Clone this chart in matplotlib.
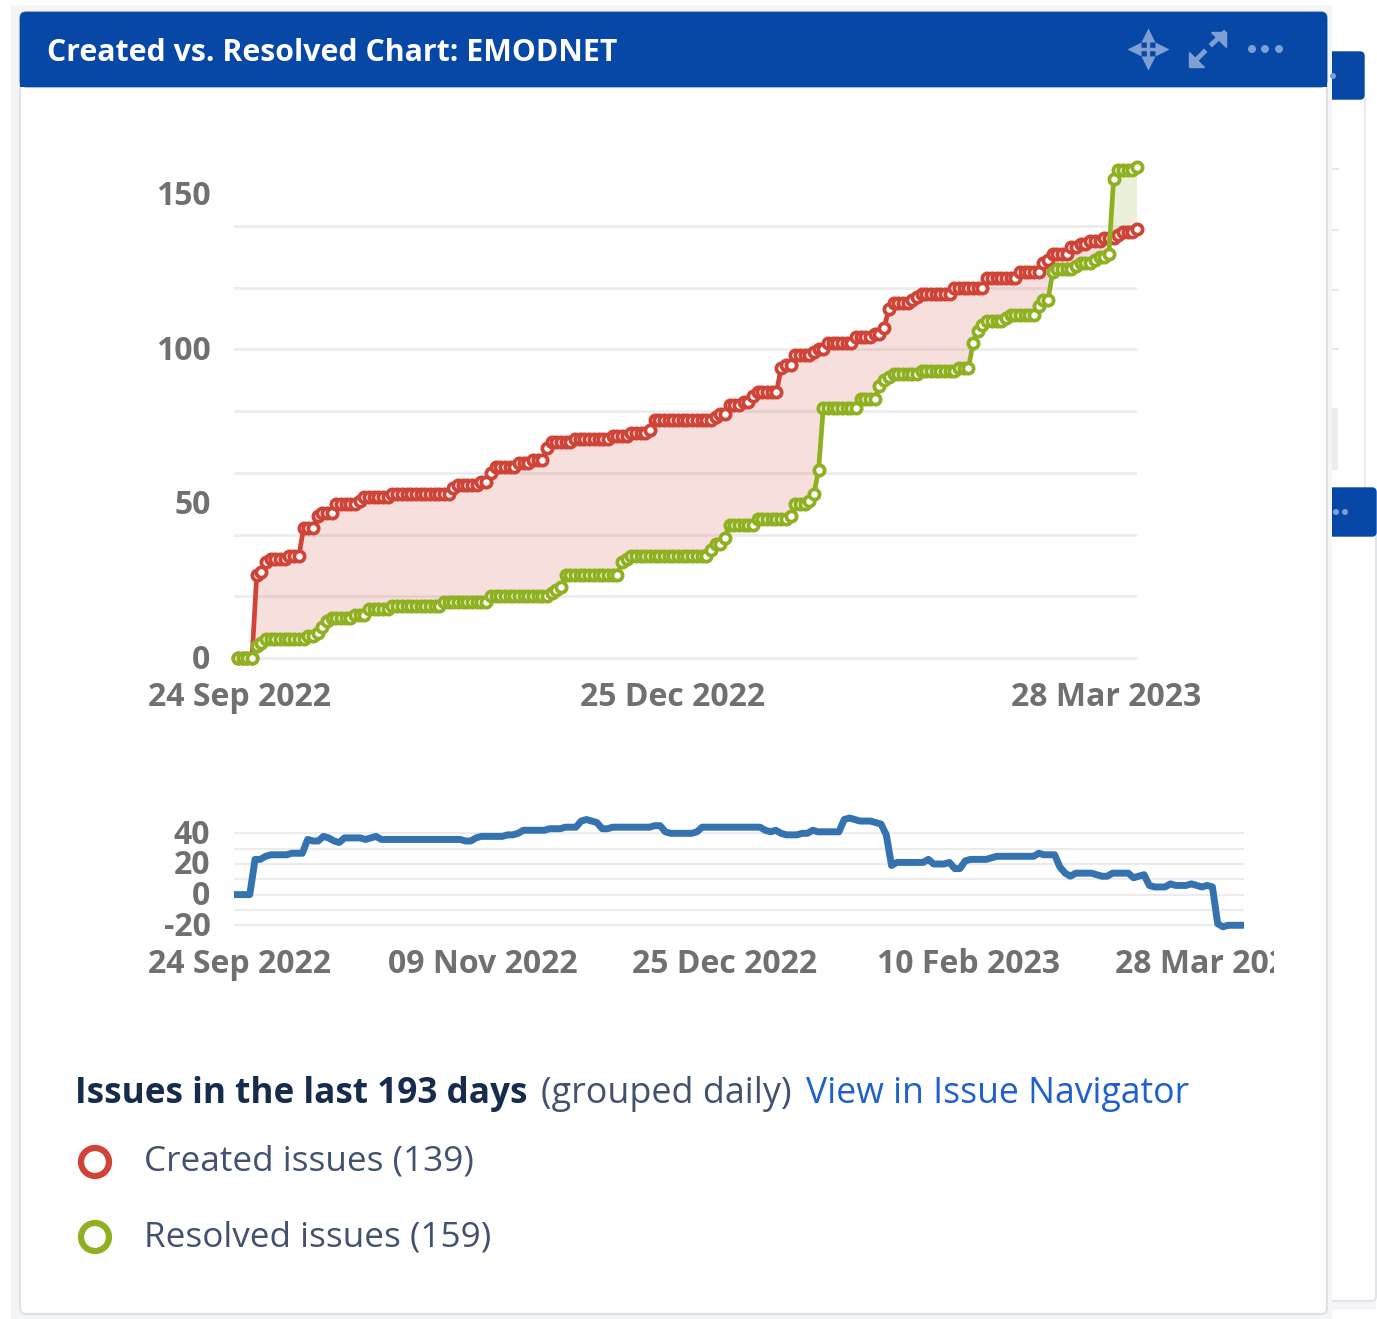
import matplotlib
matplotlib.use('Agg')
import matplotlib.pyplot as plt
import numpy as np
import pandas as pd
from matplotlib.patches import FancyBboxPatch, Rectangle, Circle
from matplotlib.transforms import Bbox, ScaledTranslation

W, H = 1377, 1319
plt.rcParams['font.family'] = ['Open Sans', 'DejaVu Sans']
plt.rcParams['axes.unicode_minus'] = False

# cumulative issue counts, one value per day from 24 Sep 2022
created = [
    0, 0, 0, 0, 27, 28, 31, 32, 32, 32,
    32, 33, 33, 33, 42, 42, 42, 46, 47, 47,
    47, 50, 50, 50, 50, 50, 51, 52, 52, 52,
    52, 52, 52, 53, 53, 53, 53, 53, 53, 53,
    53, 53, 53, 53, 53, 53, 55, 56, 56, 56,
    56, 56, 57, 57, 60, 62, 62, 62, 62, 62,
    63, 63, 63, 64, 64, 64, 68, 70, 70, 70,
    70, 70, 71, 71, 71, 71, 71, 71, 71, 71,
    72, 72, 72, 72, 73, 73, 73, 73, 74, 77,
    77, 77, 77, 77, 77, 77, 77, 77, 77, 77,
    77, 77, 78, 79, 79, 82, 82, 82, 83, 83,
    85, 86, 86, 86, 86, 86, 94, 95, 95, 98,
    98, 98, 98, 99, 100, 100, 102, 102, 102, 102,
    102, 102, 104, 104, 104, 104, 105, 105, 107, 113,
    115, 115, 115, 115, 116, 117, 118, 118, 118, 118,
    118, 118, 118, 120, 120, 120, 120, 120, 120, 120,
    123, 123, 123, 123, 123, 123, 123, 125, 125, 125,
    125, 125, 128, 129, 131, 131, 131, 131, 133, 133,
    134, 134, 135, 135, 135, 136, 136, 136, 137, 138,
    138, 138, 139]
resolved = [
    0, 0, 0, 0, 4, 5, 6, 6, 6, 6,
    6, 6, 6, 6, 6, 7, 7, 8, 10, 12,
    13, 13, 13, 13, 13, 14, 14, 14, 16, 16,
    16, 16, 16, 17, 17, 17, 17, 17, 17, 17,
    17, 17, 17, 17, 18, 18, 18, 18, 18, 18,
    18, 18, 18, 18, 20, 20, 20, 20, 20, 20,
    20, 20, 20, 20, 20, 20, 20, 21, 22, 23,
    27, 27, 27, 27, 27, 27, 27, 27, 27, 27,
    27, 27, 31, 32, 33, 33, 33, 33, 33, 33,
    33, 33, 33, 33, 33, 33, 33, 33, 33, 33,
    33, 35, 37, 37, 39, 43, 43, 43, 43, 43,
    43, 45, 45, 45, 45, 45, 45, 45, 46, 50,
    50, 50, 51, 53, 61, 81, 81, 81, 81, 81,
    81, 81, 81, 84, 84, 84, 84, 88, 90, 91,
    92, 92, 92, 92, 92, 92, 93, 93, 93, 93,
    93, 93, 93, 93, 94, 94, 94, 102, 106, 108,
    109, 109, 109, 109, 110, 111, 111, 111, 111, 111,
    111, 114, 116, 116, 125, 126, 126, 126, 126, 127,
    128, 128, 128, 129, 130, 130, 131, 155, 158, 158,
    158, 158, 159]

main_yticks = [0, 50, 100, 150]
main_grid = [0, 20, 40, 60, 80, 100, 120, 140]
main_dates = ['2022-09-24', '2022-12-25', '2023-03-28']
small_yticks = [-20, 0, 20, 40]
small_grid = [-20, -10, 0, 10, 20, 30, 40]
small_dates = ['2022-09-24', '2022-11-09', '2022-12-25', '2023-02-10', '2023-03-28']

RED = '#d04437'
GREEN = '#8eb021'
BLUE = '#3572b0'
HEADER = '#0747a6'
ICON = '#7f9fd2'
TICK = '#707070'
GRIDC = '#ececec'
DARK = '#172b4d'
TEXT = '#42526e'
LINK = '#1f5fd0'
BAND = '#f4f5f7'

dates = pd.date_range('2022-09-24', periods=len(created))
created = np.array(created)
resolved = np.array(resolved)


def px_axes(fig, left, right, top, bottom):
    return fig.add_axes([left / W, 1 - bottom / H, (right - left) / W, (bottom - top) / H])


def nudge(lab, dx, dy):
    # shift a tick label by some pixels, y up
    lab.set_transform(lab.get_transform() + ScaledTranslation(dx / 100, dy / 100, fig.dpi_scale_trans))


def style_axis(a, grid, grid_lw, xshift, xpad):
    a.patch.set_alpha(0)
    a.set_zorder(5)
    a.yaxis.remove_overlapping_locs = False
    a.set_yticks(grid, minor=True)
    a.grid(which='minor', axis='y', color=GRIDC, lw=grid_lw)
    a.set_axisbelow(True)
    a.tick_params(which='both', length=0)
    a.tick_params(axis='y', labelsize=23, labelcolor=TICK, pad=17)
    a.tick_params(axis='x', labelsize=23, labelcolor=TICK, pad=xpad)
    for lab in a.get_yticklabels():
        lab.set_fontweight('bold')
        nudge(lab, 0, 2)
    for lab, dx in zip(a.get_xticklabels(), xshift):
        lab.set_fontweight('bold')
        nudge(lab, dx, 0)
    for s in a.spines.values():
        s.set_visible(False)


fig = plt.figure(figsize=(W / 100, H / 100), dpi=100, facecolor='white')

# page furniture, in pixel coordinates
bg = fig.add_axes([0, 0, 1, 1])
bg.set_xlim(0, W)
bg.set_ylim(H, 0)
bg.axis('off')

# cards behind the main one
bg.add_patch(Rectangle((1327, 99), 38, 400, fc='white', ec='#e9ebf0', lw=1.5))
bg.add_patch(FancyBboxPatch((1320, 52), 44, 47, boxstyle='round,pad=0,rounding_size=4', fc=HEADER, ec=HEADER, lw=1))
bg.add_patch(Rectangle((1327, 1296), 49, 14, fc=BAND, ec='none'))
bg.add_patch(FancyBboxPatch((1320, 530), 56, 771, boxstyle='round,pad=0,rounding_size=5', fc='white', ec='#e2e4ea', lw=1.5))
bg.add_patch(FancyBboxPatch((1320, 488), 56, 48, boxstyle='round,pad=0,rounding_size=4', fc=HEADER, ec=HEADER, lw=1))
for y in [169, 230, 290, 349]:
    bg.plot([1332, 1338], [y, y], color='#e6e6e6', lw=1.5)
bg.add_patch(Rectangle((1332, 408), 6, 62, fc='#ececec', ec='none'))
for x in [1336, 1345]:
    bg.add_patch(Circle((x, 512), 3, fc=ICON, ec='none', zorder=3))
bg.add_patch(Circle((1333, 76), 3, fc=ICON, ec='none', zorder=3))

# main card
bg.add_patch(Rectangle((11, 5), 1321, 1314, fc=BAND, ec='none', zorder=2))
bg.add_patch(FancyBboxPatch((20, 12), 1307, 1302, boxstyle='round,pad=0,rounding_size=6',
                            fc='white', ec='#dfe1e6', lw=1.5, zorder=2))
bg.add_patch(FancyBboxPatch((20, 12), 1307, 75, boxstyle='round,pad=0,rounding_size=6',
                            fc=HEADER, ec=HEADER, lw=0.5, zorder=3))
bg.add_patch(Rectangle((20, 60), 1307, 27, fc=HEADER, ec='none', zorder=3))
bg.text(47, 53, 'Created vs. Resolved Chart: EMODNET', color='white', fontsize=21.8,
        fontweight='bold', va='center', ha='left', zorder=4)

# header icons
cx, cy = 1148, 49
bg.plot([cx - 15, cx + 15], [cy, cy], color=ICON, lw=2.5, zorder=4)
bg.plot([cx, cx], [cy - 15, cy + 15], color=ICON, lw=2.5, zorder=4)
for dx, dy, m in [(-14, 0, '<'), (14, 0, '>'), (0, -14, '^'), (0, 14, 'v')]:
    bg.plot(cx + dx, cy + dy, marker=m, ms=10, color=ICON, mec='none', zorder=4)
bg.plot([1192, 1204], [64, 52], color=ICON, lw=3.5, zorder=4)
bg.plot([1212, 1224], [44, 33], color=ICON, lw=3.5, zorder=4)
bg.fill([1189, 1189, 1204], [52, 67, 67], color=ICON, zorder=4)
bg.fill([1211, 1226, 1226], [32, 32, 47], color=ICON, zorder=4)
for x in [1252, 1265, 1279]:
    bg.add_patch(Circle((x, 49), 4, fc=ICON, ec='none', zorder=4))

# summary text and legend
bg.text(75, 1094, 'Issues in the last 193 days', color=DARK, fontsize=25.3, fontweight='bold',
        va='center', zorder=4)
bg.text(541, 1094, '(grouped daily)', color=TEXT, fontsize=25.8, va='center', zorder=4)
bg.text(806, 1094, 'View in Issue Navigator', color=LINK, fontsize=25.7, va='center', zorder=4)
bg.text(144, 1161, 'Created issues (139)', color=TEXT, fontsize=25.3, va='center', zorder=4)
bg.text(144, 1237, 'Resolved issues (159)', color=TEXT, fontsize=25.3, va='center', zorder=4)
bg.add_patch(Circle((95, 1162), 14, fc='white', ec=RED, lw=4.5, zorder=4))
bg.add_patch(Circle((95, 1237), 14, fc='white', ec=GREEN, lw=4.5, zorder=4))

# main chart, a little room under zero so that gridline is not cut
ax = px_axes(fig, 234, 1137, 164, 661.1)
ax.fill_between(dates, created, resolved, where=created >= resolved, interpolate=True,
                color=RED, alpha=0.17, lw=0)
ax.fill_between(dates, created, resolved, where=created <= resolved, interpolate=True,
                color=GREEN, alpha=0.17, lw=0)
ax.plot(dates, created, color=RED, lw=3.4, marker='o', ms=7.4, mfc='white', mec=RED, mew=2.7, clip_on=False)
ax.plot(dates, resolved, color=GREEN, lw=3.4, marker='o', ms=7.4, mfc='white', mec=GREEN, mew=2.7, clip_on=False)
ax.set_xlim(dates[0] - pd.Timedelta(days=0.85), dates[-1])
ax.set_ylim(-1, 160)
ax.set_yticks(main_yticks)
ax.set_xticks(pd.to_datetime(main_dates))
ax.set_xticklabels(pd.to_datetime(main_dates).strftime('%d %b %Y'))
style_axis(ax, main_grid, 2, [2, 4, 2], 14)

# difference chart
ax2 = px_axes(fig, 234, 1244, 818, 926.8)
ax2.plot(dates, created - resolved, color=BLUE, lw=5, solid_joinstyle='round', solid_capstyle='butt', clip_on=False)
ax2.set_xlim(dates[0], dates[-1])
ax2.set_ylim(-21, 50)
ax2.set_yticks(small_yticks)
ax2.set_xticks(pd.to_datetime(small_dates))
ax2.set_xticklabels(pd.to_datetime(small_dates).strftime('%d %b %Y'))
style_axis(ax2, small_grid, 1.6, [6, 7, 7, 3, 3], 15.5)
# last label is cut off by the chart's box
clip = Bbox([[0, 0], [1274, H]])
ax2.get_xticklabels()[-1].set_clip_box(clip)
ax2.get_xticklabels()[-1].set_clip_on(True)

fig.savefig('out.png', dpi=100)
